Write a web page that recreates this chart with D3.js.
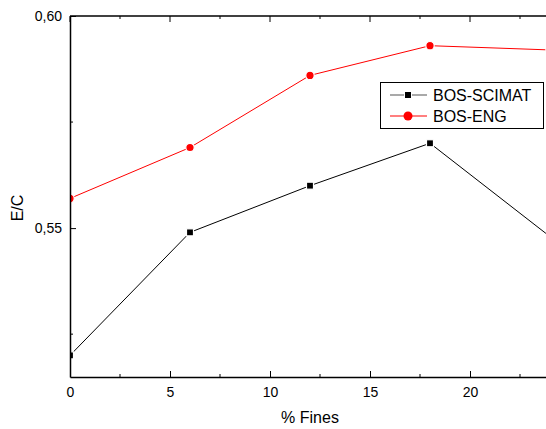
<!DOCTYPE html>
<meta charset="utf-8">
<style>
  body { margin: 0; background: #fff; }
  text { font-family: Arial, "Liberation Sans", sans-serif; fill: #000; }
</style>
<script src="https://d3js.org/d3.v7.min.js"></script>
<svg id="chart" width="546" height="429"></svg>
<script>
  // Data
  var fines = [0, 6, 12, 18, 24];
  var scimat = [0.520, 0.549, 0.560, 0.570, 0.548];
  var eng = [0.557, 0.569, 0.586, 0.593, 0.592];
  var xTicks = [0, 5, 10, 15, 20];
  var yTicks = [0.55, 0.60];
  var seriesNames = ["BOS-SCIMAT", "BOS-ENG"];

  var svg = d3.select("svg");
  var pL = 70, pT = 16, pR = 546, pB = 377;

  var x = d3.scaleLinear().domain([0, 23.8]).range([pL, pR]);
  var y = d3.scaleLinear().domain([0.5149, 0.60]).range([pB, pT]);

  // clip to plot area
  svg.append("clipPath").attr("id", "clip")
    .append("rect").attr("x", pL).attr("y", pT)
    .attr("width", pR - pL).attr("height", pB - pT);

  var plot = svg.append("g").attr("clip-path", "url(#clip)");

  var line = d3.line().x(d => x(d[0])).y(d => y(d[1]));

  // BOS-SCIMAT
  var dScimat = fines.map((f, i) => [f, scimat[i]]);
  plot.append("path").datum(dScimat).attr("d", line)
    .attr("fill", "none").attr("stroke", "#000").attr("stroke-width", 1);
  plot.selectAll(".sq").data(dScimat).enter().append("rect")
    .attr("x", d => x(d[0]) - 3.5).attr("y", d => y(d[1]) - 3.5)
    .attr("width", 7).attr("height", 7)
    .attr("fill", "#000").attr("stroke", "#fff").attr("stroke-width", 1.2);

  // BOS-ENG
  var dEng = fines.map((f, i) => [f, eng[i]]);
  plot.append("path").datum(dEng).attr("d", line)
    .attr("fill", "none").attr("stroke", "#ff0000").attr("stroke-width", 1);
  plot.selectAll(".ci").data(dEng).enter().append("circle")
    .attr("cx", d => x(d[0])).attr("cy", d => y(d[1])).attr("r", 4.2)
    .attr("fill", "#ff0000").attr("stroke", "#fff").attr("stroke-width", 1.2);

  // Axes (ticks pointing inward)
  var xAxis = svg.append("g").attr("transform", "translate(0," + pB + ")")
    .call(d3.axisBottom(x).tickValues(xTicks).tickSize(-6).tickSizeOuter(0).tickPadding(10));
  // minor x ticks
  svg.append("g").selectAll("line").data([2.5, 7.5, 12.5, 17.5, 22.5]).enter().append("line")
    .attr("x1", d => x(d)).attr("x2", d => x(d)).attr("y1", pB).attr("y2", pB - 3)
    .attr("stroke", "#000");

  var yAxis = svg.append("g").attr("transform", "translate(" + pL + ",0)")
    .call(d3.axisLeft(y).tickValues(yTicks).tickSize(-6).tickSizeOuter(0).tickPadding(8)
      .tickFormat(d => d3.format(".2f")(d).replace(".", ",")));
  svg.append("g").selectAll("line").data([0.525, 0.575]).enter().append("line")
    .attr("x1", pL).attr("x2", pL + 3).attr("y1", d => y(d)).attr("y2", d => y(d))
    .attr("stroke", "#000");

  // top axis
  svg.append("line").attr("x1", pL).attr("x2", pR).attr("y1", pT).attr("y2", pT)
    .attr("stroke", "#000").attr("stroke-width", 1.5);
  svg.append("g").selectAll("line").data(xTicks.concat([2.5, 7.5, 12.5, 17.5, 22.5])).enter().append("line")
    .attr("x1", d => x(d)).attr("x2", d => x(d)).attr("y1", pT)
    .attr("y2", d => pT + (d % 5 === 0 ? 6 : 3)).attr("stroke", "#000");

  [xAxis, yAxis].forEach(function(a) {
    a.attr("font-size", 14).attr("font-family", "Arial, 'Liberation Sans', sans-serif");
    a.select(".domain").attr("stroke-width", 1.5);
  });

  // Axis titles
  svg.append("text").attr("x", 310).attr("y", 423).attr("text-anchor", "middle")
    .attr("font-size", 16).text("% Fines");
  svg.append("text").attr("transform", "translate(23,208) rotate(-90)")
    .attr("text-anchor", "middle").attr("font-size", 16).text("E/C");

  // Legend
  var lg = svg.append("g");
  lg.append("rect").attr("x", 380.5).attr("y", 82.5).attr("width", 163).attr("height", 46)
    .attr("fill", "#fff").attr("stroke", "#000").attr("stroke-width", 1);
  var rows = [{c: "#555", m: "sq"}, {c: "#ff0000", m: "ci"}];
  rows.forEach(function(r, i) {
    var cy = 95 + i * 21;
    lg.append("line").attr("x1", 390).attr("x2", 427).attr("y1", cy).attr("y2", cy)
      .attr("stroke", r.c).attr("stroke-width", 1.2);
    if (r.m === "sq") {
      lg.append("rect").attr("x", 404.5).attr("y", cy - 3.5).attr("width", 7).attr("height", 7)
        .attr("fill", "#000").attr("stroke", "#fff").attr("stroke-width", 1);
    } else {
      lg.append("circle").attr("cx", 408).attr("cy", cy).attr("r", 4.5).attr("fill", "#ff0000");
    }
    lg.append("text").attr("x", 433).attr("y", cy + 6).attr("font-size", 16).text(seriesNames[i]);
  });
</script>
